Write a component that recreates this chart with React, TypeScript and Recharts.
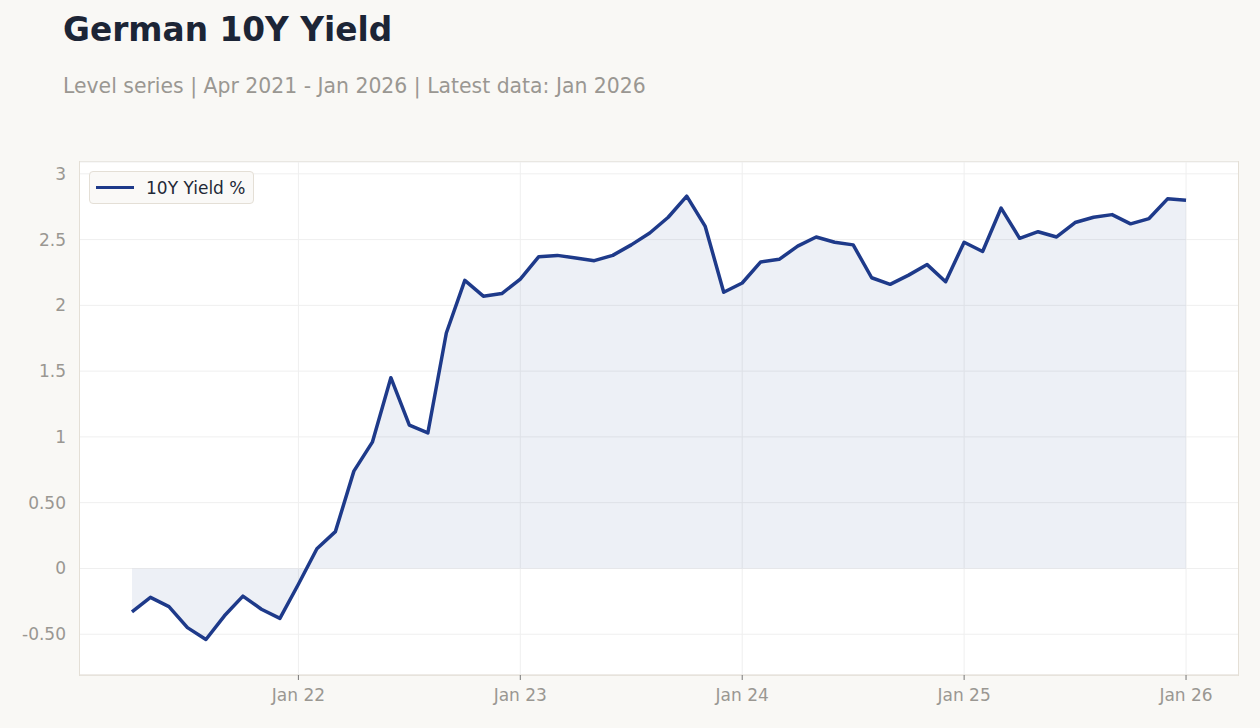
import { Area, CartesianGrid, ComposedChart, XAxis, YAxis } from 'recharts';

const months = [
  'Apr 21', 'May 21', 'Jun 21', 'Jul 21', 'Aug 21', 'Sep 21', 'Oct 21', 'Nov 21', 'Dec 21',
  'Jan 22', 'Feb 22', 'Mar 22', 'Apr 22', 'May 22', 'Jun 22', 'Jul 22', 'Aug 22', 'Sep 22', 'Oct 22', 'Nov 22', 'Dec 22',
  'Jan 23', 'Feb 23', 'Mar 23', 'Apr 23', 'May 23', 'Jun 23', 'Jul 23', 'Aug 23', 'Sep 23', 'Oct 23', 'Nov 23', 'Dec 23',
  'Jan 24', 'Feb 24', 'Mar 24', 'Apr 24', 'May 24', 'Jun 24', 'Jul 24', 'Aug 24', 'Sep 24', 'Oct 24', 'Nov 24', 'Dec 24',
  'Jan 25', 'Feb 25', 'Mar 25', 'Apr 25', 'May 25', 'Jun 25', 'Jul 25', 'Aug 25', 'Sep 25', 'Oct 25', 'Nov 25', 'Dec 25',
  'Jan 26',
];

const yields = [
  -0.33, -0.22, -0.29, -0.45, -0.54, -0.36, -0.21, -0.31, -0.38,
  -0.12, 0.15, 0.28, 0.74, 0.96, 1.45, 1.09, 1.03, 1.79, 2.19, 2.07, 2.09,
  2.2, 2.37, 2.38, 2.36, 2.34, 2.38, 2.46, 2.55, 2.67, 2.83, 2.6, 2.1,
  2.17, 2.33, 2.35, 2.45, 2.52, 2.48, 2.46, 2.21, 2.16, 2.23, 2.31, 2.18,
  2.48, 2.41, 2.74, 2.51, 2.56, 2.52, 2.63, 2.67, 2.69, 2.62, 2.66, 2.81,
  2.8,
];

const xTickMonths = ['Jan 22', 'Jan 23', 'Jan 24', 'Jan 25', 'Jan 26'];
const yTicks = [-0.5, 0, 0.5, 1, 1.5, 2, 2.5, 3];
const yTickLabels = ['-0.50', '0', '0.50', '1', '1.5', '2', '2.5', '3'];

const data = months.map((m, i) => ({ i, month: m, y: yields[i] }));
const xTicks = xTickMonths.map((m) => months.indexOf(m));

const FONT = '"DejaVu Sans", sans-serif';
const NAVY = '#1e3a8a';

export default function App() {
  return (
    <div
      style={{
        position: 'fixed',
        left: 0,
        top: 0,
        width: 1260,
        height: 728,
        background: '#f9f8f5',
        fontFamily: FONT,
        overflow: 'hidden',
      }}
    >
      <div style={{ position: 'absolute', left: 63, top: 11, fontSize: 32.8, fontWeight: 700, color: '#1c2536' }}>
        German 10Y Yield
      </div>
      <div style={{ position: 'absolute', left: 63, top: 74, fontSize: 20.4, color: '#9a9792' }}>
        Level series | Apr 2021 - Jan 2026 | Latest data: Jan 2026
      </div>
      <div
        style={{
          position: 'absolute',
          left: 80,
          top: 162,
          width: 1158,
          height: 513,
          background: '#ffffff',
          boxShadow: '0 0 0 1px #e4dfd6',
        }}
      />
      <div style={{ position: 'absolute', left: 0, top: 0 }}>
        <ComposedChart width={1260} height={728} data={data} margin={{ top: 162, right: 22, bottom: 0, left: 0 }}>
          <CartesianGrid stroke="#efefef" vertical horizontal verticalValues={xTicks} />
          <XAxis
            dataKey="i"
            type="number"
            height={53}
            domain={[-2.81, 59.81]}
            ticks={xTicks}
            tickFormatter={(v: number) => months[v]}
            allowDataOverflow
            axisLine={{ stroke: '#e4dfd6' }}
            tickLine={{ stroke: '#777' }}
            tickSize={5}
            tickMargin={9}
            tick={{ fill: '#9a9792', fontSize: 17, fontFamily: FONT }}
          />
          <YAxis
            type="number"
            width={80}
            domain={[-0.81, 3.09]}
            ticks={yTicks}
            tickFormatter={(v: number) => yTickLabels[yTicks.indexOf(v)]}
            allowDataOverflow
            axisLine={false}
            tickLine={false}
            tickSize={6}
            tickMargin={8}
            tick={{ fill: '#9a9792', fontSize: 17, fontFamily: FONT }}
          />
          <Area
            dataKey="y"
            type="linear"
            baseValue={0}
            stroke={NAVY}
            strokeWidth={3.5}
            strokeLinejoin="round"
            fill={NAVY}
            fillOpacity={0.08}
            dot={false}
            activeDot={false}
            isAnimationActive={false}
          />
        </ComposedChart>
      </div>
      <div
        style={{
          position: 'absolute',
          left: 89,
          top: 171,
          width: 163,
          height: 31,
          background: '#faf9f7',
          border: '1px solid #e4dfd6',
          borderRadius: 4,
          display: 'flex',
          alignItems: 'center',
        }}
      >
        <div style={{ marginLeft: 6, width: 38, height: 3.5, background: NAVY }} />
        <div style={{ marginLeft: 12, fontSize: 17, color: '#1f2937' }}>10Y Yield %</div>
      </div>
    </div>
  );
}
